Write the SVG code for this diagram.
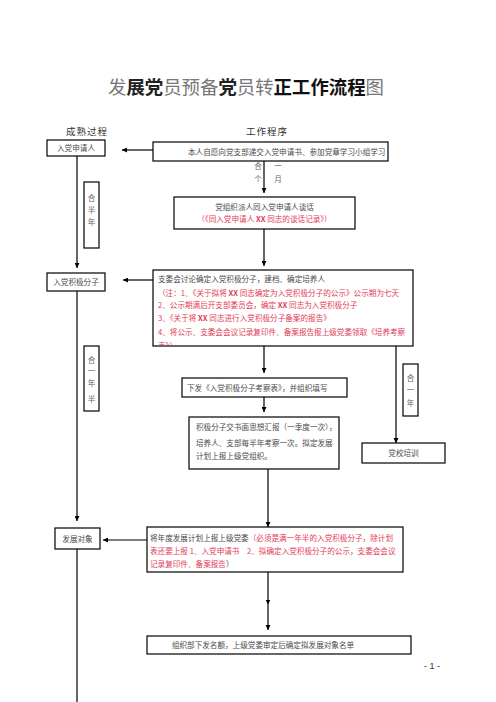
<svg xmlns="http://www.w3.org/2000/svg" width="496" height="702" viewBox="0 0 496 702">
<style>
.box{fill:#fff;stroke:#000;stroke-width:1.2}
.t{font-family:"Noto Sans CJK SC","Liberation Serif",serif;font-size:7.6px;fill:#4a4a4a}
.r{fill:#e23b57}
.b{font-weight:bold}
.sm{font-family:"Noto Sans CJK SC","Liberation Serif",serif;font-size:7.6px;fill:#666;text-anchor:middle}
.hd{font-family:"Noto Sans CJK SC",sans-serif;font-size:9.5px;fill:#333;text-anchor:middle;letter-spacing:1px}
.ln{stroke:#000;stroke-width:1.2;fill:none}
</style>
<defs>
<marker id="ah" viewBox="0 0 10 10" refX="10" refY="5" markerWidth="5" markerHeight="5" orient="auto" markerUnits="userSpaceOnUse">
<path d="M0,0 L10,5 L0,10 z" fill="#000"/>
</marker>
<marker id="ahm" viewBox="0 0 10 10" refX="5" refY="5" markerWidth="5" markerHeight="5" orient="auto" markerUnits="userSpaceOnUse">
<path d="M0,0 L10,5 L0,10 z" fill="#000"/>
</marker>
<clipPath id="c4"><rect x="153" y="270" width="260" height="75"/></clipPath>
</defs>
<rect width="496" height="702" fill="#fff"/>

<g id="title">
<text x="108" y="94" font-family="Noto Sans CJK SC,sans-serif" font-size="18.4" fill="#777"><tspan>发</tspan><tspan fill="#222" font-weight="bold">展党</tspan><tspan>员预备</tspan><tspan fill="#222" font-weight="bold">党</tspan><tspan>员转</tspan><tspan fill="#111" font-weight="bold">正工作流程</tspan><tspan>图</tspan></text>
</g>
<g id="headers">
<text class="hd" x="87" y="135">成熟过程</text>
<text class="hd" x="267" y="135">工作程序</text>
</g>

<g id="connectors">
<line class="ln" x1="153" y1="150" x2="122" y2="150" marker-end="url(#ah)"/>
<line class="ln" x1="264" y1="161" x2="264" y2="193" marker-end="url(#ah)"/>
<line class="ln" x1="77" y1="156" x2="77" y2="268" marker-end="url(#ah)"/>
<line class="ln" x1="264" y1="229" x2="264" y2="266" marker-end="url(#ah)"/>
<line class="ln" x1="153" y1="280" x2="123" y2="280" marker-end="url(#ah)"/>
<line class="ln" x1="264" y1="346" x2="264" y2="373" marker-end="url(#ah)"/>
<line class="ln" x1="264" y1="397" x2="264" y2="412" marker-end="url(#ah)"/>
<line class="ln" x1="396" y1="346" x2="396" y2="443" marker-end="url(#ah)"/>
<line class="ln" x1="77" y1="290" x2="77" y2="521" marker-end="url(#ah)"/>
<line class="ln" x1="268" y1="469" x2="268" y2="527" marker-end="url(#ah)"/>
<line class="ln" x1="147" y1="540" x2="103" y2="540" marker-end="url(#ah)"/>
<polyline class="ln" points="268,572 268,602 268,630" marker-mid="url(#ahm)" marker-end="url(#ah)"/>
<line class="ln" x1="77" y1="549" x2="77" y2="702"/>
<text class="sm" x="258" y="169">合</text>
<text class="sm" x="278" y="169">一</text>
<text class="sm" x="258" y="182">个</text>
<text class="sm" x="278" y="182">月</text>
</g>

<g id="n-apply">
<rect class="box" x="47" y="140" width="58" height="16"/>
<text class="t" x="76" y="151" text-anchor="middle">入党申请人</text>
</g>
<g id="n-submit">
<rect class="box" x="153" y="142" width="235" height="19"/>
<text class="t" x="188" y="154.5">本人自愿向党支部递交入党申请书、参加党章学习小组学习</text>
</g>
<g id="n-halfyear">
<rect class="box" x="84" y="182" width="15" height="66"/>
<text class="sm" x="91.5" y="201">合</text>
<text class="sm" x="91.5" y="213">半</text>
<text class="sm" x="91.5" y="225">年</text>
</g>
<g id="n-talk">
<rect class="box" x="174" y="197" width="181" height="32"/>
<text class="t" x="264.5" y="210" text-anchor="middle">党组织派人同入党申请人谈话</text>
<text class="t r" x="264.5" y="222" text-anchor="middle">（《同入党申请人 <tspan class="b">XX</tspan> 同志的谈话记录》）</text>
</g>
<g id="n-activist">
<rect class="box" x="47" y="273" width="58" height="18"/>
<text class="t" x="76" y="285" text-anchor="middle">入党积极分子</text>
</g>
<g id="n-committee">
<rect class="box" x="153" y="270" width="260" height="76"/>
<g clip-path="url(#c4)">
<text class="t" x="158" y="282">支委会讨论确定入党积极分子，建档、确定培养人</text>
<text class="t r" x="158" y="296">（注：1、《关于拟将 <tspan class="b">XX</tspan> 同志确定为入党积极分子的公示》公示期为七天</text>
<text class="t r" x="158" y="307.5">2、公示期满后开支部委员会，确定 <tspan class="b">XX</tspan> 同志为入党积极分子</text>
<text class="t r" x="158" y="321">3、《关于将 <tspan class="b">XX</tspan> 同志进行入党积极分子备案的报告》</text>
<text class="t r" x="158" y="335">4、将公示、支委会会议记录复印件、备案报告报上级党委领取《培养考察</text>
<text class="t r" x="158" y="349">表》）</text>
</g>
</g>
<g id="n-yearhalf">
<rect class="box" x="84" y="346" width="15" height="65"/>
<text class="sm" x="91.5" y="363">合</text>
<text class="sm" x="91.5" y="374">一</text>
<text class="sm" x="91.5" y="386">年</text>
<text class="sm" x="91.5" y="402">半</text>
</g>
<g id="n-oneyear">
<rect class="box" x="403" y="364" width="15" height="52"/>
<text class="sm" x="410.5" y="381">合</text>
<text class="sm" x="410.5" y="393">一</text>
<text class="sm" x="410.5" y="406">年</text>
</g>
<g id="n-form">
<rect class="box" x="182" y="378" width="165" height="19"/>
<text class="t" x="187" y="390.5">下发《入党积极分子考察表》，并组织填写</text>
</g>
<g id="n-report">
<rect class="box" x="189" y="417" width="150" height="52"/>
<text class="t" x="196" y="430">积极分子交书面思想汇报（一季度一次），</text>
<text class="t" x="196" y="446">培养人、支部每半年考察一次。拟定发展</text>
<text class="t" x="196" y="459">计划上报上级党组织。</text>
</g>
<g id="n-school">
<rect class="box" x="362" y="443" width="83" height="20"/>
<text class="t" x="403.5" y="456" text-anchor="middle">党校培训</text>
</g>
<g id="n-target">
<rect class="box" x="55" y="528" width="45" height="21"/>
<text class="t" x="77.5" y="541.5" text-anchor="middle">发展对象</text>
</g>
<g id="n-plan">
<rect class="box" x="147" y="527" width="256" height="45"/>
<text class="t" x="150" y="541">将年度发展计划上报上级党委<tspan class="r">（必须是满一年半的入党积极分子，除计划</tspan></text>
<text class="t r" x="150" y="554">表还要上报 1、入党申请书　2、拟确定入党积极分子的公示，支委会会议</text>
<text class="t" x="150" y="567"><tspan class="r">记录复印件、备案报告</tspan>）</text>
</g>
<g id="n-quota">
<rect class="box" x="147" y="636" width="264" height="18"/>
<text class="t" x="263" y="648" text-anchor="middle">组织部下发名额，上级党委审定后确定拟发展对象名单</text>
</g>
<text x="432" y="669" font-family="Liberation Sans,sans-serif" font-size="9" fill="#333" text-anchor="middle">- 1 -</text>
</svg>
